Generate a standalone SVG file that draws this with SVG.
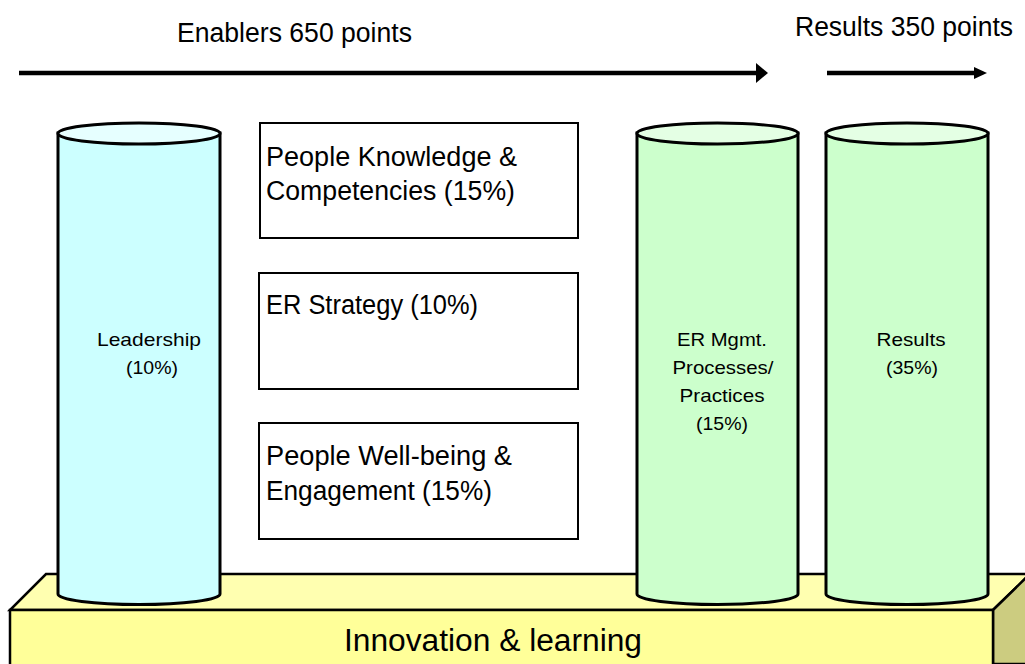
<svg xmlns="http://www.w3.org/2000/svg" width="1025" height="664" viewBox="0 0 1025 664">
<style>
text{font-family:"Liberation Sans",Arial,sans-serif;fill:#000}
.big{font-size:27px}
.small{font-size:19px}
.box{fill:#fff;stroke:#000;stroke-width:2}
.cyl{stroke:#000;stroke-width:3}
.blue{fill:#ccffff}.bluetop{fill:#e6ffff}
.green{fill:#ccffcc}.greentop{fill:#e4ffe4}
.arr{stroke:#000;stroke-width:4.5;fill:none}
</style>
<defs>
<marker id="headL" markerUnits="userSpaceOnUse" markerWidth="12" markerHeight="20" refX="0" refY="10" orient="auto"><path d="M0,0 L12,10 L0,20 Z" fill="#000"/></marker>
<marker id="headS" markerUnits="userSpaceOnUse" markerWidth="13" markerHeight="12" refX="0" refY="6" orient="auto"><path d="M0,0 L13,6 L0,12 Z" fill="#000"/></marker>
</defs>
<g id="connectors">
<line class="arr" x1="19" y1="73" x2="756" y2="73" marker-end="url(#headL)"/>
<line class="arr" x1="827" y1="73" x2="974" y2="73" marker-end="url(#headS)"/>
</g>
<text class="big" x="177" y="42" textLength="235" lengthAdjust="spacingAndGlyphs">Enablers 650 points</text>
<text class="big" x="795" y="36" textLength="218" lengthAdjust="spacingAndGlyphs">Results 350 points</text>
<g id="platform">
<polygon points="46,574 1030,574 993,610 10,610" fill="#ffffb0" stroke="#000" stroke-width="2.5"/>
<polygon points="993,610 1030,574 1030,664 993,664" fill="#cccc80" stroke="#000" stroke-width="2.5"/>
<rect x="10" y="610" width="983" height="60" fill="#ffff99" stroke="#000" stroke-width="2.5"/>
<text x="493" y="651" font-size="31" text-anchor="middle" textLength="298" lengthAdjust="spacingAndGlyphs">Innovation &amp; learning</text>
</g>
<g id="leadership">
<path class="cyl blue" d="M58,133 L58,594 A81,10.5 0 0 0 220,594 L220,133 Z"/>
<ellipse class="cyl bluetop" cx="139" cy="133.5" rx="81" ry="10.5"/>
<text class="small" x="149" y="346" text-anchor="middle" textLength="104" lengthAdjust="spacingAndGlyphs">Leadership</text>
<text class="small" x="152" y="374" text-anchor="middle" textLength="52" lengthAdjust="spacingAndGlyphs">(10%)</text>
</g>
<g id="ermgmt">
<path class="cyl green" d="M637,133 L637,594 A80.5,10.5 0 0 0 798,594 L798,133 Z"/>
<ellipse class="cyl greentop" cx="717.5" cy="133.5" rx="80.5" ry="10.5"/>
<text class="small" x="722" y="346" text-anchor="middle" textLength="90" lengthAdjust="spacingAndGlyphs">ER Mgmt.</text>
<text class="small" x="723" y="374" text-anchor="middle" textLength="101" lengthAdjust="spacingAndGlyphs">Processes/</text>
<text class="small" x="722" y="402" text-anchor="middle" textLength="85" lengthAdjust="spacingAndGlyphs">Practices</text>
<text class="small" x="722" y="430" text-anchor="middle" textLength="52" lengthAdjust="spacingAndGlyphs">(15%)</text>
</g>
<g id="results">
<path class="cyl green" d="M826,133 L826,594 A81,10.5 0 0 0 988,594 L988,133 Z"/>
<ellipse class="cyl greentop" cx="907" cy="133.5" rx="81" ry="10.5"/>
<text class="small" x="911" y="346" text-anchor="middle" textLength="69" lengthAdjust="spacingAndGlyphs">Results</text>
<text class="small" x="912" y="374" text-anchor="middle" textLength="52" lengthAdjust="spacingAndGlyphs">(35%)</text>
</g>
<g id="knowledge">
<rect class="box" x="260" y="123" width="318" height="115"/>
<text class="big" x="266" y="166" textLength="251" lengthAdjust="spacingAndGlyphs">People Knowledge &amp;</text>
<text class="big" x="266" y="200" textLength="249" lengthAdjust="spacingAndGlyphs">Competencies (15%)</text>
</g>
<g id="strategy">
<rect class="box" x="259" y="273" width="319" height="116"/>
<text class="big" x="266" y="314" textLength="212" lengthAdjust="spacingAndGlyphs">ER Strategy (10%)</text>
</g>
<g id="wellbeing">
<rect class="box" x="259" y="423" width="319" height="116"/>
<text class="big" x="266" y="465" textLength="246" lengthAdjust="spacingAndGlyphs">People Well-being &amp;</text>
<text class="big" x="266" y="500" textLength="226" lengthAdjust="spacingAndGlyphs">Engagement (15%)</text>
</g>
</svg>
